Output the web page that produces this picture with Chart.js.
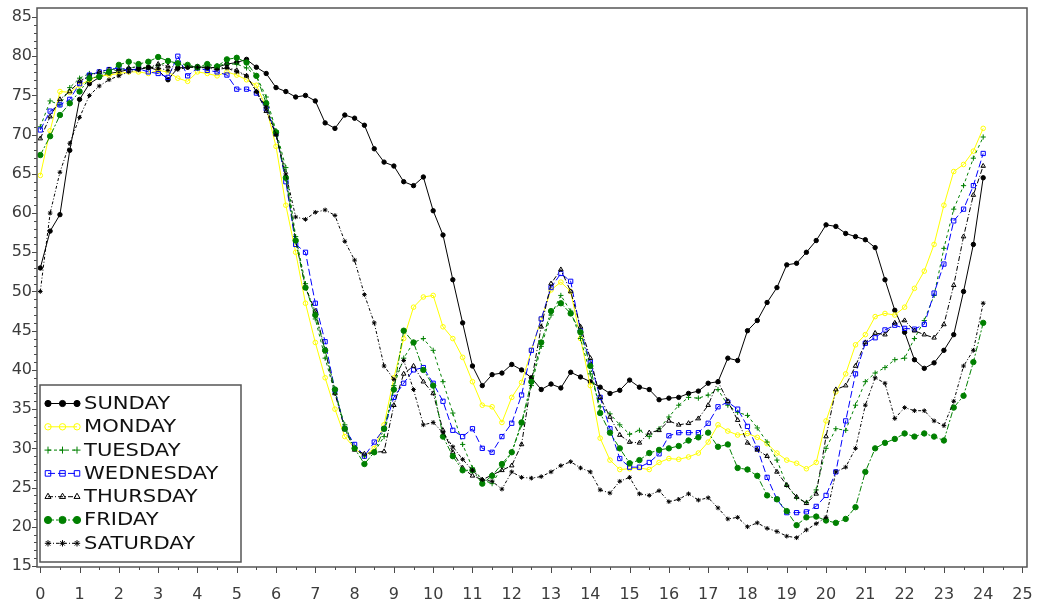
<!DOCTYPE html>
<html>
<head>
<meta charset="utf-8">
<script src="https://cdn.jsdelivr.net/npm/chart.js@4.4.1/dist/chart.umd.min.js"></script>
<style>
  html, body { margin: 0; padding: 0; background: #ffffff; }
  #wrap { width: 1037px; height: 604px; }
</style>
</head>
<body>
<div id="wrap"><canvas id="chart" width="1037" height="604"></canvas></div>
<script>
// Time of day (hours), sampled every 15 minutes
const hours = [
  0, 0.25, 0.5, 0.75, 1, 1.25, 1.5, 1.75, 2, 2.25, 2.5, 2.75,
  3, 3.25, 3.5, 3.75, 4, 4.25, 4.5, 4.75, 5, 5.25, 5.5, 5.75,
  6, 6.25, 6.5, 6.75, 7, 7.25, 7.5, 7.75, 8, 8.25, 8.5, 8.75,
  9, 9.25, 9.5, 9.75, 10, 10.25, 10.5, 10.75, 11, 11.25, 11.5, 11.75,
  12, 12.25, 12.5, 12.75, 13, 13.25, 13.5, 13.75, 14, 14.25, 14.5, 14.75,
  15, 15.25, 15.5, 15.75, 16, 16.25, 16.5, 16.75, 17, 17.25, 17.5, 17.75,
  18, 18.25, 18.5, 18.75, 19, 19.25, 19.5, 19.75, 20, 20.25, 20.5, 20.75,
  21, 21.25, 21.5, 21.75, 22, 22.25, 22.5, 22.75, 23, 23.25, 23.5, 23.75,
  24
];

const sunday = [
  53, 57.7, 59.8, 68, 74.5, 76.5, 77.3, 77.8, 78, 78.3, 78.3, 78.6,
  78.2, 77, 78.5, 78.6, 78.7, 78.5, 78.6, 79, 79.2, 79.6, 78.6, 77.8,
  76, 75.5, 74.8, 75, 74.3, 71.5, 70.8, 72.5, 72.1, 71.2, 68.2, 66.5,
  66, 64, 63.5, 64.6, 60.3, 57.2, 51.5, 46, 40.5, 38, 39.4, 39.6,
  40.7, 40, 39, 37.5, 38.2, 37.7, 39.7, 39.1, 38.5, 37.8, 37, 37.4,
  38.7, 37.8, 37.5, 36.2, 36.4, 36.5, 37, 37.3, 38.3, 38.5, 41.5, 41.2,
  45, 46.3, 48.6, 50.5, 53.4, 53.6, 55, 56.5, 58.5, 58.3, 57.4, 57,
  56.6, 55.6, 51.5, 47.6, 44.8, 41.3, 40.2, 40.9, 42.5, 44.5, 50, 56,
  64.5
];

const monday = [
  64.8, 70.5, 75.5, 75.4, 76.3, 77, 77.5, 77.6, 77.8, 78, 78, 77.8,
  78.2, 78, 77.2, 76.8, 78, 77.8, 77.5, 78, 77.6, 77, 76.3, 73.5,
  68.5, 61, 55, 48.5, 43.5, 39, 35, 31.5, 30, 29, 30, 33,
  39, 44, 48, 49.3, 49.5, 45.5, 44, 41.6, 38.5, 35.5, 35.3, 33.3,
  36.5, 38.4, 42.5, 46.5, 50.2, 51.2, 50, 44, 38, 31.3, 28.5, 27.3,
  27.4, 27.5, 27.3, 28.2, 28.7, 28.6, 28.9, 29.4, 30.8, 33, 32.2, 31.7,
  31.9, 31.4, 30.6, 29.4, 28.5, 28.1, 27.4, 28.2, 33.5, 37.2, 39.5, 43.2,
  44.5, 46.8, 47.2, 47, 48, 50.4, 52.6, 56, 61, 65.3, 66.2, 67.9,
  70.8
];

const tuesday = [
  71, 74.3, 73.8, 76, 77.2, 77.8, 77.8, 78, 78.3, 78.5, 78.7, 78.5,
  78.8, 79.3, 79, 78.7, 78.5, 78.7, 78.8, 79, 79, 78.5, 77.5, 74.8,
  70.5, 65.8, 57, 51, 46.5, 41.5, 37, 33, 30, 29, 29.5, 31.5,
  38, 41.5, 43.5, 44, 42.5, 38.5, 34.5, 30.5, 27.5, 26, 25.5, 27.6,
  29.5, 33, 38, 43, 47, 49.5, 47.5, 44, 39.5, 35.3, 34.4, 33,
  31.8, 32.3, 31.5, 32.5, 34, 35.5, 36.5, 36.4, 36.8, 37.5, 35.5, 34.6,
  34.2, 32.6, 30.8, 28.5, 25.3, 23.7, 23.1, 24.7, 30, 32.5, 32.3, 35.5,
  38.5, 39.6, 40.3, 41.3, 41.5, 44, 46.3, 49.5, 55.5, 60.5, 63.5, 67,
  69.7
];

const wednesday = [
  70.6, 73, 73.8, 74.5, 76.5, 77.6, 78, 78.3, 78.5, 78.2, 78.4, 78,
  77.8, 77.3, 80, 77.5, 78.5, 78.2, 78, 77.6, 75.8, 75.8, 75.3, 73.3,
  70.2, 64, 56, 55, 48.5, 43.6, 37.4, 32.5, 30.5, 29, 30.8, 32.5,
  36.5, 38.3, 40, 40.3, 38.3, 36, 32.3, 31.5, 32.5, 30, 29.5, 31.5,
  33.2, 36.8, 42.5, 46.5, 50.5, 52.3, 51.3, 45, 41, 36.5, 32.5, 28.7,
  27.6, 27.6, 28.2, 29.3, 31.6, 32, 32, 32, 33.2, 35.3, 35.9, 35,
  32.8, 30, 26.3, 23.5, 21.8, 21.8, 21.9, 22.6, 24, 27, 33.5, 39.5,
  43.4, 44.1, 45.1, 45.7, 45.3, 45.2, 45.8, 49.8, 53.5, 59, 60.5, 63.5,
  67.6
];

const thursday = [
  69.5, 72.3, 74.5, 75.5, 76.8, 77.5, 78, 78.3, 78.3, 78.5, 78.6, 78.5,
  79, 78.7, 78.6, 78.8, 78.5, 78.6, 78.5, 78.6, 78.2, 77.5, 75.5, 73,
  70, 64.5, 56.5, 50.5, 47.5, 42.5, 37, 32.5, 29.8, 29.3, 29.5, 29.6,
  35.5, 39.5, 40.5, 38.5, 37, 32.3, 29.5, 27.5, 26.5, 26, 26.6, 27.2,
  27.8, 30.5, 38.5, 45.5, 51, 52.8, 50, 45.5, 41.5, 36.5, 34, 31.7,
  30.8, 30.7, 32, 32.3, 33.5, 33, 33.2, 33.8, 35.5, 38.5, 36, 33.6,
  30.7, 29.8, 29, 27, 25.3, 23.8, 23, 24.2, 31.5, 37.5, 38, 40.5,
  43.5, 44.7, 44.5, 46, 46.3, 45, 44.5, 44.1, 45.8, 50.8, 57, 62.3,
  66
];

const friday = [
  67.4, 69.8, 72.5, 74, 75.5, 77.2, 77.4, 78, 78.9, 79.3, 79, 79.3,
  79.9, 79.4, 79.1, 78.9, 78.6, 79, 78.7, 79.6, 79.8, 79.2, 77.5, 74,
  70.3, 64.5, 56.5, 50.5, 47, 42.5, 37.5, 32.5, 30, 28, 29.5, 32.5,
  37.5, 45, 43.5, 40, 38, 31.5, 29, 27.2, 27.2, 25.5, 26.5, 28,
  29.5, 33.3, 38.5, 43.5, 47.5, 48.5, 47.2, 44.8, 40.5, 34.5, 32, 30,
  28.1, 28.5, 29.4, 29.8, 30, 30.3, 31, 31.4, 32, 30.2, 30.5, 27.5,
  27.3, 26.5, 24, 23.5, 22, 20.2, 21.2, 21.3, 20.8, 20.5, 21, 22.5,
  27, 30, 30.7, 31.2, 31.9, 31.5, 31.9, 31.5, 31, 35.2, 36.7, 41,
  46
];

const saturday = [
  50, 60, 65.2, 68.9, 72.2, 75, 76.2, 77, 77.5, 78, 78.3, 78.6,
  78.5, 78.2, 78.3, 78.6, 78.6, 78.5, 78.3, 78.5, 78, 77.5, 75.5, 73.5,
  70, 65, 59.5, 59.2, 60.1, 60.4, 59.7, 56.4, 54, 49.6, 46, 40.5,
  38.8, 41.2, 37.5, 33, 33.3, 32, 30.2, 28.6, 27.2, 26, 25.8, 24.8,
  27, 26.3, 26.2, 26.4, 27, 27.8, 28.3, 27.5, 27, 24.7, 24.3, 25.8,
  26.3, 24.2, 24, 24.6, 23.2, 23.5, 24.2, 23.4, 23.7, 22.4, 21, 21.2,
  20, 20.5, 19.8, 19.4, 18.8, 18.6, 19.6, 20.4, 21.2, 27, 27.6, 30,
  35.5, 39, 38.3, 33.8, 35.2, 34.8, 34.8, 33.5, 32.9, 36, 40.5, 42.5,
  48.5
];

const dayNames = ['SUNDAY', 'MONDAY', 'TUESDAY', 'WEDNESDAY', 'THURSDAY', 'FRIDAY', 'SATURDAY'];
const xTickValues = [0, 1, 2, 3, 4, 5, 6, 7, 8, 9, 10, 11, 12, 13, 14, 15, 16, 17, 18, 19, 20, 21, 22, 23, 24, 25];
const yTickValues = [15, 20, 25, 30, 35, 40, 45, 50, 55, 60, 65, 70, 75, 80, 85];

// Line and marker look of each day
const looks = [
  { color: '#000000', marker: 'circle',   filled: true,  dash: [],           radius: 2.2 },
  { color: '#ffff00', marker: 'circle',   filled: false, dash: [],           radius: 2.3 },
  { color: '#008000', marker: 'cross',    filled: false, dash: [3, 3],       radius: 2.6 },
  { color: '#0000ff', marker: 'rect',     filled: false, dash: [7, 3],       radius: 3 },
  { color: '#000000', marker: 'triangle', filled: false, dash: [5, 2, 1, 2], radius: 2.6 },
  { color: '#008000', marker: 'circle',   filled: true,  dash: [6, 2, 2, 2], radius: 2.7 },
  { color: '#000000', marker: 'star',     filled: false, dash: [3, 2, 1, 2], radius: 2.3 }
];

const series = [sunday, monday, tuesday, wednesday, thursday, friday, saturday];

const datasets = series.map((vals, i) => ({
  label: dayNames[i],
  data: hours.map((h, k) => ({ x: h, y: vals[k] })),
  borderColor: looks[i].color,
  backgroundColor: looks[i].color,
  borderWidth: 1,
  borderDash: looks[i].dash,
  pointStyle: looks[i].marker,
  pointRadius: looks[i].radius,
  pointBorderWidth: 1,
  pointBorderColor: looks[i].color,
  pointBackgroundColor: looks[i].filled ? looks[i].color : 'rgba(0,0,0,0)',
  tension: 0,
  order: series.length - i
}));

const TICK_FONT = { family: '"DejaVu Sans", Verdana, sans-serif', size: 16 };

// Keep the plot area exactly where the layout padding puts it
function fixBox(scale, size) {
  if (scale.isHorizontal()) scale.height = size; else scale.width = size;
  scale.paddingLeft = 0;
  scale.paddingRight = 0;
  scale.paddingTop = 0;
  scale.paddingBottom = 0;
}

// Outer frame plus major/minor tick marks on the x and y axes
const axisFrame = {
  id: 'axisFrame',
  afterDraw(chart) {
    const { ctx, chartArea: a, scales: { x, y } } = chart;
    ctx.save();
    ctx.strokeStyle = '#4a4a4a';
    ctx.lineWidth = 1;
    ctx.beginPath();
    const x0 = xTickValues[0], x1 = xTickValues[xTickValues.length - 1];
    for (let v = x0; v <= x1 + 1e-9; v += 0.5) {
      const px = Math.round(x.getPixelForValue(v)) + 0.5;
      const len = Math.abs(v - Math.round(v)) < 1e-9 ? 6 : 3;
      ctx.moveTo(px, a.bottom);
      ctx.lineTo(px, a.bottom + len);
    }
    const y0 = yTickValues[0], y1 = yTickValues[yTickValues.length - 1];
    for (let v = y0; v <= y1 + 1e-9; v += 1) {
      const py = Math.round(y.getPixelForValue(v)) + 0.5;
      const len = v % 5 === 0 ? 5 : 3;
      ctx.moveTo(a.left - len, py);
      ctx.lineTo(a.left, py);
    }
    ctx.stroke();
    ctx.lineWidth = 1.5;
    ctx.strokeStyle = '#555555';
    ctx.strokeRect(a.left, a.top, a.right - a.left, a.bottom - a.top);
    ctx.restore();
  }
};

// Boxed legend sitting inside the plot, lower-left corner
const insetLegend = {
  id: 'insetLegend',
  afterDatasetsDraw(chart) {
    const { ctx, chartArea: a } = chart;
    const boxX = a.left + 3, boxW = 201, boxH = 177;
    const boxY = a.bottom - 5 - boxH;
    const rowH = 23.3;
    ctx.save();
    ctx.fillStyle = '#ffffff';
    ctx.fillRect(boxX, boxY, boxW, boxH);
    ctx.strokeStyle = '#555555';
    ctx.lineWidth = 1.5;
    ctx.strokeRect(boxX, boxY, boxW, boxH);

    chart.data.datasets.forEach((ds, i) => {
      const cy = boxY + 18.5 + i * rowH;
      const sx = boxX + 8, ex = boxX + 37;
      ctx.save();
      ctx.strokeStyle = ds.borderColor;
      ctx.lineWidth = 1;
      ctx.setLineDash(ds.borderDash);
      ctx.beginPath();
      ctx.moveTo(sx, cy);
      ctx.lineTo(ex, cy);
      ctx.stroke();
      ctx.setLineDash([]);
      ctx.fillStyle = ds.pointBackgroundColor;
      ctx.strokeStyle = ds.pointBorderColor;
      [sx, (sx + ex) / 2, ex].forEach(px => {
        Chart.helpers.drawPoint(ctx, {
          pointStyle: ds.pointStyle,
          radius: ds.pointRadius + 0.9,
          rotation: 0,
          borderWidth: 1
        }, px, cy);
      });
      ctx.restore();

      ctx.save();
      ctx.translate(boxX + 44, cy);
      ctx.scale(1.24, 1);
      ctx.fillStyle = '#111111';
      ctx.font = '17px "DejaVu Sans", Verdana, sans-serif';
      ctx.textBaseline = 'middle';
      ctx.textAlign = 'left';
      ctx.fillText(ds.label, 0, 1);
      ctx.restore();
    });
    ctx.restore();
  }
};

new Chart(document.getElementById('chart'), {
  type: 'line',
  data: { datasets },
  options: {
    responsive: false,
    animation: false,
    devicePixelRatio: 1,
    layout: { padding: { left: 0, top: 8, right: 10, bottom: 0 } },
    plugins: {
      legend: { display: false },
      tooltip: { enabled: false }
    },
    scales: {
      x: {
        type: 'linear',
        min: -0.084,
        max: 25.115,
        afterBuildTicks: s => { s.ticks = xTickValues.map(v => ({ value: v })); },
        afterFit: s => fixBox(s, 37),
        grid: { display: false, drawTicks: false },
        border: { display: false },
        ticks: {
          autoSkip: false,
          maxRotation: 0,
          padding: 18,
          color: '#3c3c3c',
          font: TICK_FONT,
          callback: v => String(v)
        }
      },
      y: {
        type: 'linear',
        min: 14.87,
        max: 86.15,
        afterBuildTicks: s => { s.ticks = yTickValues.map(v => ({ value: v })); },
        afterFit: s => fixBox(s, 37),
        grid: { display: false, drawTicks: false },
        border: { display: false },
        ticks: {
          padding: 5,
          color: '#3c3c3c',
          font: TICK_FONT,
          callback: v => String(v)
        }
      }
    }
  },
  plugins: [axisFrame, insetLegend]
});
</script>
</body>
</html>
